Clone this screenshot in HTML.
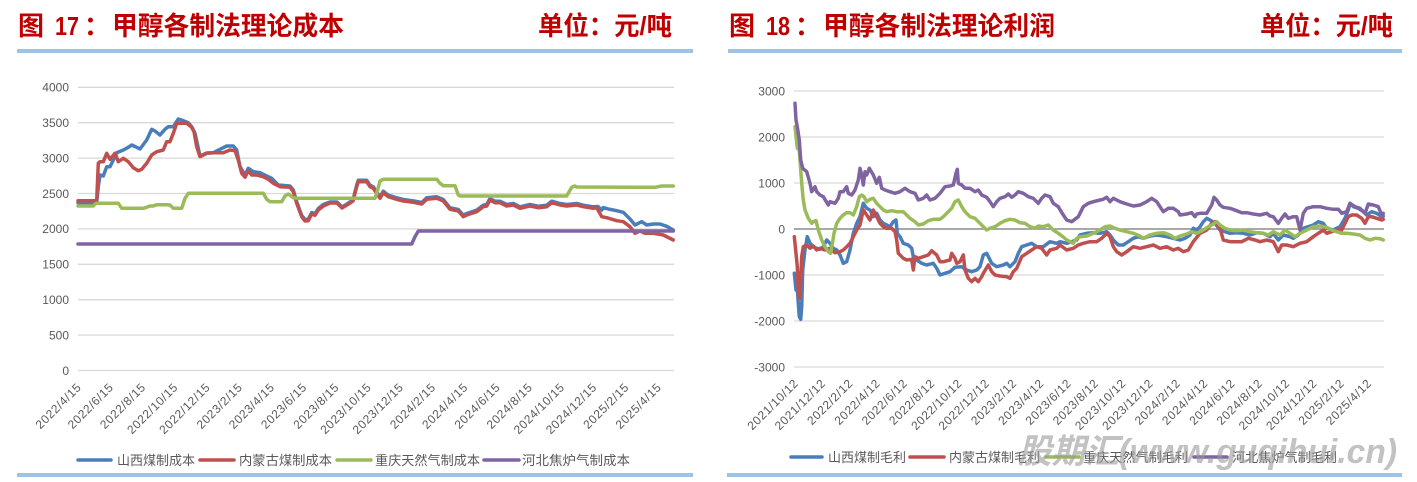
<!DOCTYPE html>
<html>
<head>
<meta charset="utf-8">
<style>
html,body{margin:0;padding:0;background:#fff;}
svg{display:block;}
.t{font-family:"Liberation Sans","Noto Sans CJK SC",sans-serif;font-weight:bold;fill:#C00000;font-size:26px;}
.yl{font-family:"Liberation Sans",sans-serif;font-size:12px;fill:#595959;text-anchor:end;}
.xl{font-family:"Liberation Sans",sans-serif;font-size:12px;fill:#595959;text-anchor:end;letter-spacing:0.6px;}
.lg{font-family:"Liberation Sans","Noto Sans CJK SC",sans-serif;font-size:13px;fill:#595959;}
.s{fill:none;stroke-width:3.5;stroke-linejoin:round;stroke-linecap:round;}
</style>
</head>
<body>
<svg width="1417" height="482" viewBox="0 0 1417 482" xmlns="http://www.w3.org/2000/svg">
<rect width="1417" height="482" fill="#fff"/>

<!-- ============ LEFT PANEL ============ -->
<text class="t" x="18" y="35">图</text>
<text class="t" x="55" y="35" textLength="24" lengthAdjust="spacingAndGlyphs">17</text>
<text class="t" x="84" y="35">：</text>
<text class="t" x="112" y="35" textLength="232" lengthAdjust="spacingAndGlyphs">甲醇各制法理论成本</text>
<text class="t" x="538" y="35" textLength="134" lengthAdjust="spacingAndGlyphs">单位：元/吨</text>
<rect x="17" y="49" width="676" height="4" fill="#9DC3E6"/>
<rect x="17" y="473" width="676" height="4" fill="#9DC3E6"/>

<!-- gridlines -->
<g stroke="#d9d9d9" stroke-width="1.3">
<line x1="78" y1="87.3" x2="674" y2="87.3"/>
<line x1="78" y1="122.7" x2="674" y2="122.7"/>
<line x1="78" y1="158.1" x2="674" y2="158.1"/>
<line x1="78" y1="193.5" x2="674" y2="193.5"/>
<line x1="78" y1="228.9" x2="674" y2="228.9"/>
<line x1="78" y1="264.3" x2="674" y2="264.3"/>
<line x1="78" y1="299.7" x2="674" y2="299.7"/>
<line x1="78" y1="335.1" x2="674" y2="335.1"/>
<line x1="78" y1="370.5" x2="674" y2="370.5"/>
</g>
<g class="yl">
<text x="69" y="91.6">4000</text>
<text x="69" y="127">3500</text>
<text x="69" y="162.4">3000</text>
<text x="69" y="197.8">2500</text>
<text x="69" y="233.2">2000</text>
<text x="69" y="268.6">1500</text>
<text x="69" y="304">1000</text>
<text x="69" y="339.4">500</text>
<text x="69" y="374.8">0</text>
</g>
<g class="xl">
<text x="82" y="388" transform="rotate(-45 82 388)">2022/4/15</text>
<text x="114.2" y="388" transform="rotate(-45 114.2 388)">2022/6/15</text>
<text x="146.4" y="388" transform="rotate(-45 146.4 388)">2022/8/15</text>
<text x="178.7" y="388" transform="rotate(-45 178.7 388)">2022/10/15</text>
<text x="210.9" y="388" transform="rotate(-45 210.9 388)">2022/12/15</text>
<text x="243.1" y="388" transform="rotate(-45 243.1 388)">2023/2/15</text>
<text x="275.3" y="388" transform="rotate(-45 275.3 388)">2023/4/15</text>
<text x="307.5" y="388" transform="rotate(-45 307.5 388)">2023/6/15</text>
<text x="339.8" y="388" transform="rotate(-45 339.8 388)">2023/8/15</text>
<text x="372" y="388" transform="rotate(-45 372 388)">2023/10/15</text>
<text x="404.2" y="388" transform="rotate(-45 404.2 388)">2023/12/15</text>
<text x="436.4" y="388" transform="rotate(-45 436.4 388)">2024/2/15</text>
<text x="468.6" y="388" transform="rotate(-45 468.6 388)">2024/4/15</text>
<text x="500.9" y="388" transform="rotate(-45 500.9 388)">2024/6/15</text>
<text x="533.1" y="388" transform="rotate(-45 533.1 388)">2024/8/15</text>
<text x="565.3" y="388" transform="rotate(-45 565.3 388)">2024/10/15</text>
<text x="597.5" y="388" transform="rotate(-45 597.5 388)">2024/12/15</text>
<text x="629.7" y="388" transform="rotate(-45 629.7 388)">2025/2/15</text>
<text x="662" y="388" transform="rotate(-45 662 388)">2025/4/15</text>
</g>

<!-- left series -->
<polyline class="s" stroke="#4A7EBB" points="78,202.7 96.7,202.7 98.3,186.7 100,175 103.3,176 106.7,166.7 110,166.7 113.3,160 116.7,152.7 123.3,150 128.3,147.3 131.7,145 136.7,147.3 140,149 146.7,140 151.7,129.3 155,131 160,135 165,129.3 168.3,126.7 173.3,126.7 178.3,119 183.3,120.7 188.3,122.7 191.7,126.7 195,133.3 198.3,148.3 200,156 206.7,153 213.3,152.7 220,149.3 226.7,146 233.3,146 236.7,150 240,166.7 245,175 248.3,168.3 253.3,171.7 260,172.7 266.7,176 271.7,178.3 278.3,185 290,186 293.3,190 296.7,201.7 301.7,215.5 305,219.5 308.3,219.2 311.7,212.5 315,213.8 318.3,208.5 323.3,204.5 330,202 337,202 342,207 347,204 353,200 356.7,185 358.3,180.2 366.7,180.2 370,185.2 373.3,186.8 380,196.8 383.3,191.2 388.3,195.2 396.7,197.8 403.3,199.5 413.3,200.8 421.7,202.5 426.7,197.8 436.7,196.8 443.3,199.5 450,207.8 458.3,209.5 463.3,215.2 466.7,213.5 476.7,210.2 483.3,205.2 486.7,204.5 490,198.5 495,201.2 500,201.2 506.7,204.5 513.3,203.5 520,206.8 530,204.5 538.3,206.2 546.7,205.2 551.7,201.2 560,203.5 566.7,204.5 576.7,203.5 583.3,205.2 593.3,206.8 598,206.5 601.7,210 603.3,207.5 608.3,209 616.7,210.7 623.3,212.3 630,219 635,225 641.7,221.7 646.7,225 653.3,224 660,224 666.7,226.3 673.3,230"/>
<polyline class="s" stroke="#C0504D" points="78,200.7 96.7,200.7 98.3,163.3 100,161.7 103.3,161.7 106.7,153.3 110,159.3 115,153.3 118.3,161.7 123.3,158.3 128.3,161.7 133.3,167.7 138.3,170.7 141.7,169.3 146.7,163.3 151.7,155 156.7,151.7 163.3,150 166.7,141.7 170,141.7 173.3,133.3 176.7,123.3 186.7,123.3 191.7,127.3 194,131.7 196.7,146.7 200,156.7 206.7,153.3 213.3,152.7 223.3,152.7 230,150 235,150.7 238.3,160 241.7,173.3 245,177.3 248.3,170.7 251.7,175 256.7,175 263.3,176.7 268.3,179.3 273.3,183.3 280,186.7 290,187.3 293.3,191.7 296.7,203.3 301.7,216.7 305,221 308.3,220.7 311.7,214 315,215.3 318.3,210 323.3,206 330,203 337,203 342,208 347,205 353,201 356.7,186.7 358.3,181.7 366.7,181.7 370,186.7 373.3,188.3 380,198.3 383.3,192.7 388.3,196.7 396.7,199.3 403.3,201 413.3,202.3 421.7,204 426.7,199.3 436.7,198.3 443.3,201 450,209.3 458.3,211 463.3,216.7 466.7,215 476.7,211.7 483.3,206.7 486.7,206 490,200 495,202.7 500,202.7 506.7,206 513.3,205 520,208.3 530,206 538.3,207.7 546.7,206.7 551.7,202.7 560,205 566.7,206 576.7,205 583.3,206.7 593.3,208.3 596.7,207.7 601.7,216.7 606.7,217.7 616.7,220.7 623.3,221.7 630,226.7 635,233.3 640,231 645,233.3 653.3,233.3 663.3,235 673.3,240"/>
<polyline class="s" stroke="#9BBB59" points="78,206 93.3,206 95,204 96.7,203.3 118.3,203.3 121.7,208.3 143.3,208.3 146.7,207.3 150,206 153.3,206 156.7,204.7 166.7,204.7 170,205 173.3,208.3 181.7,208.3 185,198.3 188.3,193.3 263.3,193.3 266.7,199.3 270,201.7 281.7,201.7 285,196 288.3,194 293.3,197.7 298.3,198.3 375,198.3 376.7,193.3 380,181 383.3,179.3 436.7,179.3 440,183.3 443.3,185.7 455,185.7 458.3,195 460,196 566.7,196 571.7,187.3 575,186 576.7,187 655,187.3 661.7,186 673.3,186"/>
<polyline class="s" stroke="#8064A2" points="78,244 411.7,244 415,236.7 418.3,231 673.3,231"/>

<!-- left legend -->
<g stroke-width="3.5" stroke-linecap="round">
<line x1="78" y1="460" x2="111" y2="460" stroke="#4A7EBB"/>
<line x1="200" y1="460" x2="234" y2="460" stroke="#C0504D"/>
<line x1="337" y1="460" x2="371" y2="460" stroke="#9BBB59"/>
<line x1="484" y1="460" x2="519" y2="460" stroke="#8064A2"/>
</g>
<g class="lg">
<text x="117" y="465" textLength="78" lengthAdjust="spacingAndGlyphs">山西煤制成本</text>
<text x="239" y="465" textLength="93" lengthAdjust="spacingAndGlyphs">内蒙古煤制成本</text>
<text x="375" y="465" textLength="105" lengthAdjust="spacingAndGlyphs">重庆天然气制成本</text>
<text x="522" y="465" textLength="108" lengthAdjust="spacingAndGlyphs">河北焦炉气制成本</text>
</g>

<!-- ============ RIGHT PANEL ============ -->
<text class="t" x="729" y="35">图</text>
<text class="t" x="766" y="35" textLength="24" lengthAdjust="spacingAndGlyphs">18</text>
<text class="t" x="795" y="35">：</text>
<text class="t" x="823" y="35" textLength="232" lengthAdjust="spacingAndGlyphs">甲醇各制法理论利润</text>
<text class="t" x="1260" y="35" textLength="133" lengthAdjust="spacingAndGlyphs">单位：元/吨</text>
<rect x="728" y="49" width="674" height="4" fill="#9DC3E6"/>
<rect x="727" y="473" width="675" height="4" fill="#9DC3E6"/>

<g stroke="#d9d9d9" stroke-width="1.3">
<line x1="794" y1="91" x2="1384" y2="91"/>
<line x1="794" y1="137" x2="1384" y2="137"/>
<line x1="794" y1="183" x2="1384" y2="183"/>
<line x1="794" y1="275" x2="1384" y2="275"/>
<line x1="794" y1="321" x2="1384" y2="321"/>
<line x1="794" y1="367" x2="1384" y2="367"/>
</g>
<line x1="794" y1="229" x2="1384" y2="229" stroke="#8c8c8c" stroke-width="1.6"/>
<g class="yl">
<text x="785" y="95.3">3000</text>
<text x="785" y="141.3">2000</text>
<text x="785" y="187.3">1000</text>
<text x="785" y="233.3">0</text>
<text x="785" y="279.3">-1000</text>
<text x="785" y="325.3">-2000</text>
<text x="785" y="371.3">-3000</text>
</g>
<g class="xl">
<text x="799" y="384" transform="rotate(-45 799 384)">2021/10/12</text>
<text x="826.3" y="384" transform="rotate(-45 826.3 384)">2021/12/12</text>
<text x="853.6" y="384" transform="rotate(-45 853.6 384)">2022/2/12</text>
<text x="880.9" y="384" transform="rotate(-45 880.9 384)">2022/4/12</text>
<text x="908.2" y="384" transform="rotate(-45 908.2 384)">2022/6/12</text>
<text x="935.5" y="384" transform="rotate(-45 935.5 384)">2022/8/12</text>
<text x="962.8" y="384" transform="rotate(-45 962.8 384)">2022/10/12</text>
<text x="990.1" y="384" transform="rotate(-45 990.1 384)">2022/12/12</text>
<text x="1017.4" y="384" transform="rotate(-45 1017.4 384)">2023/2/12</text>
<text x="1044.7" y="384" transform="rotate(-45 1044.7 384)">2023/4/12</text>
<text x="1072" y="384" transform="rotate(-45 1072 384)">2023/6/12</text>
<text x="1099.3" y="384" transform="rotate(-45 1099.3 384)">2023/8/12</text>
<text x="1126.6" y="384" transform="rotate(-45 1126.6 384)">2023/10/12</text>
<text x="1153.9" y="384" transform="rotate(-45 1153.9 384)">2023/12/12</text>
<text x="1181.2" y="384" transform="rotate(-45 1181.2 384)">2024/2/12</text>
<text x="1208.5" y="384" transform="rotate(-45 1208.5 384)">2024/4/12</text>
<text x="1235.8" y="384" transform="rotate(-45 1235.8 384)">2024/6/12</text>
<text x="1263.1" y="384" transform="rotate(-45 1263.1 384)">2024/8/12</text>
<text x="1290.4" y="384" transform="rotate(-45 1290.4 384)">2024/10/12</text>
<text x="1317.7" y="384" transform="rotate(-45 1317.7 384)">2024/12/12</text>
<text x="1345" y="384" transform="rotate(-45 1345 384)">2025/2/12</text>
<text x="1372.3" y="384" transform="rotate(-45 1372.3 384)">2025/4/12</text>
</g>

<!-- right series -->
<polyline class="s" stroke="#4A7EBB" points="794.3,273.3 796,290 797.3,288.3 798.3,303.3 799.3,316.7 800.7,319.3 801.7,306.7 802.7,270 805,250 807.3,236.7 810,243.3 813.3,246.7 816.7,248.3 820,249.3 823.3,246.7 826.7,240 830,243.3 833.3,248.3 836.7,250 840,255 843.3,263.3 846.7,261.7 850,250 853.3,233.3 856.7,223.3 860,216.7 863.3,203.3 866.7,208.3 870,210 873.3,216.7 876.7,213.3 880,220 883.3,223.3 886.7,225 890,226.7 893.3,221.7 896,220 897.3,233.3 900,236.7 903.3,243.3 908.3,245 911.7,248.3 913.3,256.7 916.7,260 921.7,263.3 926.7,265 933.3,263.3 936.7,268.3 940,275 945,273.3 950,271.7 955,267.3 961.7,266.7 966.7,270 971.7,271.7 976.7,270 980,266.7 983.3,255 986.7,253.3 991.7,263.3 996.7,266.7 1003.3,265 1006.7,263.3 1010,266.7 1015,261.7 1018.3,253.3 1021.7,246.7 1026.7,245 1031.7,243.3 1036.7,246.7 1043.3,246.7 1050,241.7 1056.7,243.3 1060,241.7 1066.7,243.3 1071.7,241.7 1076.7,240 1080,235 1086.7,233.3 1093.3,232.7 1100,233.3 1106.7,231.7 1110,235 1113.3,240 1118.3,245 1123.3,245 1128.3,241.7 1133.3,238.3 1138.3,236.7 1143.3,238.3 1150,236 1156.7,235 1163.3,236 1166.7,236.7 1173.3,238.3 1180,240 1185,238.3 1190,235 1193.3,228.3 1196.7,230 1200,226.7 1203.3,221.7 1206.7,218.3 1210,220 1215,223.3 1220,230 1225,231.7 1230,233.3 1236.7,232.7 1243.3,233.3 1250,235 1256.7,232.7 1263.3,233.3 1270,236.7 1273.3,233.3 1278.3,240 1283.3,235 1290,236.7 1293.3,238.3 1298.3,235 1303.3,228.3 1308.3,226.7 1313.3,225 1318.3,221.7 1323.3,223.3 1326.7,228.3 1333.3,230 1340,226.7 1345,218.3 1348.3,210 1350,203.3 1353.3,206.7 1358.3,208.3 1363.3,211.7 1366.7,215 1371.7,211.7 1376.7,213.3 1381.7,216.7 1383.3,216"/>
<polyline class="s" stroke="#C0504D" points="794.3,236.7 796,253.3 797.3,266.7 798.3,290 799.3,298.3 800.7,280 801.7,256.7 803.3,246.7 806.7,245 810,248.3 813.3,246 816.7,250 820,248.3 825,250 830,248.3 835,252.7 840,251.7 843.3,250 846.7,246.7 850,243.3 853.3,236.7 856.7,230 860,225 863.3,210 866.7,215 870,220 873.3,210 876.7,216.7 880,223.3 883.3,226.7 886.7,228.3 891.7,228.3 895,231.7 896.7,240 898.3,253.3 903.3,258.3 906.7,260 911.7,259.3 913.3,270 915,256.7 918.3,258.3 923.3,256.7 928.3,255 931.7,250.7 936.7,255 940,261.7 943.3,261.7 950,260 951.7,253.3 955,258.3 956.7,263.3 960,261.7 963.3,255 965,270 968.3,278.3 971.7,281.7 975,278.3 978.3,281.7 981.7,276.7 983.3,273.3 988.3,265 991.7,271.7 995,275 1000,276 1006.7,276.7 1010,278.3 1013.3,271.7 1016.7,268.3 1021.7,256.7 1026.7,253.3 1031.7,250 1036.7,246.7 1041.7,248.3 1046.7,255 1050,250 1056.7,248.3 1060,245 1066.7,250 1073.3,248.3 1078.3,245 1083.3,243.3 1090,241.7 1096.7,241.7 1101.7,238.3 1106.7,233.3 1110,236.7 1113.3,246.7 1116.7,251.7 1121.7,255 1126.7,251.7 1133.3,246.7 1140,248.3 1146.7,246.7 1153.3,245 1160,248.3 1166.7,246.7 1173.3,250 1178.3,248.3 1183.3,251.7 1188.3,250 1193.3,241.7 1200,233.3 1206.7,230 1211.7,223.3 1215,221.7 1220,228.3 1223.3,240 1230,241.7 1235,241.7 1241.7,241.7 1248.3,238.3 1255,240 1260,241.7 1266.7,240 1273.3,241.7 1278.3,251.7 1281.7,245 1286.7,245 1293.3,246.7 1300,243.3 1306.7,241.7 1313.3,236.7 1318.3,233.3 1323.3,230 1326.7,233.3 1331.7,231.7 1336.7,230 1341.7,230 1345,223.3 1348.3,216.7 1351.7,215 1356.7,215 1361.7,218.3 1365,223.3 1368.3,216.7 1371.7,216.7 1376.7,218.3 1381.7,220 1383.3,219.3"/>
<polyline class="s" stroke="#9BBB59" points="795,126.7 797.3,148.3 799.3,150 800.7,170 802,186.7 803.3,200 805,210 808.3,218.3 811.7,223.3 813.3,221.7 816,220.7 818.3,230 821.7,240 825,246.7 828.3,251.7 830.7,253.3 832.7,241.7 834,233.3 836.7,223.3 840,218.3 843.3,215 846.7,212.7 850,212.7 853.3,215 856.7,206.7 859.3,196.7 861.7,195 864,196.7 866.7,201.7 870,199.3 873.3,198.3 876.7,203.3 880,206.7 883.3,210 886.7,211.7 891.7,210.7 896.7,211.7 903.3,211.7 906.7,215 910,218.3 915,221.7 918.3,225 923.3,224 928.3,220.7 933.3,219.3 940,219.3 943.3,216.7 946.7,213.3 951.7,208.3 955,201.7 958.3,200 961.7,206.7 965,211.7 970,216.7 975,218.3 980,223.3 983.3,226.7 986.7,230 990,228.3 995,226.7 1000,223.3 1005,220.7 1010,219.3 1015,220 1020,222.7 1025,223.3 1030,226.7 1035,228.3 1038.3,226 1043.3,226.7 1048.3,225 1053.3,230 1058.3,233.3 1063.3,237 1066.7,240 1073.3,243.3 1076.7,238.3 1080,236.7 1086.7,236 1093.3,233.3 1100,230 1105,226.7 1110,226 1115,228.3 1120,230 1126.7,231.7 1133.3,233.3 1140,236 1143.3,238.3 1150,235 1156.7,233.3 1163.3,232.7 1170,235 1175,238.3 1180,236 1186.7,234 1191.7,231.7 1196.7,233.3 1203.3,230 1208.3,226.7 1211.7,225 1216.7,221.7 1220,225 1225,228.3 1230,230 1236.7,230.7 1243.3,230 1250,231.7 1256.7,232.7 1263.3,233.3 1268.3,235 1273.3,231.7 1280,235 1285,230 1290,233.3 1295,236.7 1300,233.3 1306.7,230 1313.3,226.7 1320,226 1326.7,227.3 1331.7,230 1336.7,231.7 1341.7,233.3 1346.7,233.3 1353.3,234 1360,235 1365,238.3 1370,240 1375,238.3 1380,238.7 1383.3,240"/>
<polyline class="s" stroke="#8064A2" points="795,103.3 796,120 797.3,126.7 799.3,140 800.7,160 802.7,168.3 806.7,171.7 810,183.3 811.7,191.7 815,186.7 816.7,191.7 820,195 823.3,196.7 828.3,205 830,201.7 835,203.3 838.3,198.3 840,191.7 843.3,191.7 846.7,186.7 848.3,193.3 851.7,195 855,190 858.3,180 860,168.3 861.7,175 863.3,185 865,171.7 866.7,175 869.3,168.3 873.3,175 876.7,183.3 879.3,177.3 881.7,188.3 885,190 890,191.7 895,193.3 900,191.7 905,188.3 910,191.7 915,193.3 918.3,200 923.3,198.3 926.7,195 930,200 935,198.3 940,193.3 945,186.7 950,186 953.3,185 956,173.3 957.3,169.3 958.3,183.3 961.7,185 965,188.3 970,188.3 975,191.7 978.3,190 981.7,195 986.7,197.3 990,201.7 993.3,206.7 996.7,201.7 1000,198.3 1005,196.7 1008.3,194 1011.7,197.3 1015,195 1018.3,191.7 1023.3,193.3 1028.3,196.7 1033.3,198.3 1038.3,203.3 1041.7,198.3 1045,195 1050,196.7 1053.3,203.3 1058.3,206.7 1062,213 1066.7,220 1071.7,221.7 1078.3,216.7 1083.3,206.7 1088.3,203.3 1093.3,201.7 1100,200 1103.3,199.3 1106.7,197.3 1110,201.7 1113.3,198.3 1120,201.7 1126.7,204 1133.3,206 1140,205 1146.7,201.7 1151.7,198.3 1156.7,201.7 1160,206.7 1163.3,211.7 1168.3,208.3 1173.3,208.3 1178.3,211.7 1180,215 1186.7,214 1191.7,212.7 1195,216.7 1196.7,214 1200,213.3 1206.7,213.3 1211.7,205 1214,197.3 1216.7,200 1220,205 1223.3,207.3 1230,208.3 1236.7,210.7 1241.7,212.7 1246.7,212.7 1253.3,214 1260,215 1266.7,213.3 1270,216 1273.3,216.7 1278.3,223.3 1281.7,218.3 1285,214 1288.3,218.3 1293.3,216.7 1296.7,216.7 1300,230 1303.3,213.3 1306.7,208.3 1313.3,206.7 1320,206.7 1326.7,208.3 1333.3,209.3 1338.3,209.3 1341.7,213.3 1346.7,211.7 1350,203.3 1355,206.7 1360,208.3 1365,213.3 1368.3,204 1373.3,205 1378.3,206.7 1381.7,215 1383.3,213.3"/>

<!-- right legend -->
<g stroke-width="3.5" stroke-linecap="round">
<line x1="791" y1="457" x2="822" y2="457" stroke="#4A7EBB"/>
<line x1="910" y1="457" x2="944" y2="457" stroke="#C0504D"/>
<line x1="1046" y1="457" x2="1079" y2="457" stroke="#9BBB59"/>
<line x1="1194" y1="457" x2="1227" y2="457" stroke="#8064A2"/>
</g>
<g class="lg">
<text x="828" y="462" textLength="78" lengthAdjust="spacingAndGlyphs">山西煤制毛利</text>
<text x="949" y="462" textLength="91" lengthAdjust="spacingAndGlyphs">内蒙古煤制毛利</text>
<text x="1083" y="462" textLength="105" lengthAdjust="spacingAndGlyphs">重庆天然气制毛利</text>
<text x="1232" y="462" textLength="105" lengthAdjust="spacingAndGlyphs">河北焦炉气制毛利</text>
</g>

<!-- watermark -->
<text x="1018" y="463" textLength="379" lengthAdjust="spacingAndGlyphs" style="font-family:'Liberation Sans','Noto Sans CJK SC',sans-serif;font-weight:bold;font-style:italic;font-size:34px;fill:#999999;fill-opacity:0.6;">股期汇(www.guqihui.cn)</text>
</svg>
</body>
</html>
